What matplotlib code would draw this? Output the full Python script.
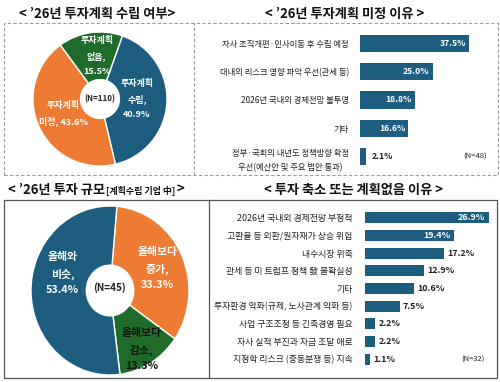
import matplotlib
matplotlib.use('Agg')
import matplotlib.pyplot as plt
from matplotlib.patches import Rectangle

plt.rcParams['font.family'] = ['Noto Sans CJK KR', 'DejaVu Sans']

BLUE = '#1d5e80'
ORANGE = '#ee7b33'
GREEN = '#1f6b2b'
TXT = '#222222'

# 투자계획 수립 여부
plan_labels = ['투자계획\n수립,\n40.9%', '투자계획\n미정, 43.6%', '투자계획\n없음,\n15.5%']
plan_values = [40.9, 43.6, 15.5]

# 투자계획 미정 이유
undecided_cats = ['자사 조직개편·인사이동 후 수립 예정',
                  '대내외 리스크 영향 파악 우선(관세 등)',
                  '2026년 국내외 경제전망 불투명',
                  '기타',
                  '정부·국회의 내년도 정책방향 확정\n우선(예산안 및 주요 법안 통과)']
undecided_vals = [37.5, 25.0, 18.8, 16.6, 2.1]

# 투자 규모
scale_labels = ['올해보다\n증가,\n33.3%', '올해보다\n감소,\n13.3%', '올해와\n비슷,\n53.4%']
scale_values = [33.3, 13.3, 53.4]

# 투자 축소 또는 계획없음 이유
cut_cats = ['2026년 국내외 경제전망 부정적',
            '고환율 등 외환/원자재가 상승 위험',
            '내수시장 위축',
            '관세 등 미 트럼프 정책 發 불확실성',
            '기타',
            '투자환경 악화(규제, 노사관계 악화 등)',
            '사업 구조조정 등 긴축경영 필요',
            '자사 실적 부진과 자금 조달 애로',
            '지정학 리스크 (중동분쟁 등) 지속']
cut_vals = [26.9, 19.4, 17.2, 12.9, 10.6, 7.5, 2.2, 2.2, 1.1]

W, H = 500, 382
fig = plt.figure(figsize=(W / 100, H / 100), dpi=100)
renderer = fig.canvas.get_renderer()


def px_axes(x0, y0, w, h):
    return fig.add_axes([x0 / W, 1 - (y0 + h) / H, w / W, h / H])


def fx(x):
    return x / W


def fy(y):
    return 1 - y / H


# frames
fig.patches.append(Rectangle((fx(4), fy(175)), fx(494), 152 / H, transform=fig.transFigure,
                             fill=False, ec='#9a9a9a', lw=0.8, ls=(0, (3, 2))))
fig.lines.append(plt.Line2D([fx(194), fx(194)], [fy(175), fy(23)], transform=fig.transFigure,
                            color='#9a9a9a', lw=0.8, ls=(0, (3, 2))))
fig.patches.append(Rectangle((fx(4), fy(378)), fx(493), 178 / H, transform=fig.transFigure,
                             fill=False, ec='#555555', lw=0.9))
fig.lines.append(plt.Line2D([fx(209), fx(209)], [fy(378), fy(200)], transform=fig.transFigure,
                            color='#555555', lw=0.9))

# titles
tkw = dict(fontsize=9.5, fontweight='bold', color='#111111', va='center')
fig.text(fx(97), fy(14), "< ’26년 투자계획 수립 여부>", ha='center', **tkw)
fig.text(fx(345), fy(14), "< ’26년 투자계획 미정 이유 >", ha='center', **tkw)
t1 = fig.text(fx(8), fy(190), "< ’26년 투자 규모", ha='left', **tkw)
x_end = t1.get_window_extent(renderer).x1 / fig.bbox.width
t2 = fig.text(x_end + 0.003, fy(191), "[계획수립 기업 中]", ha='left', fontsize=6.5,
              fontweight='bold', color='#111111', va='center')
x_end = t2.get_window_extent(renderer).x1 / fig.bbox.width
fig.text(x_end + 0.002, fy(190), ">", ha='left', **tkw)
fig.text(fx(353), fy(190), "< 투자 축소 또는 계획없음 이유 >", ha='center', **tkw)

# top-left donut
ax1 = px_axes(33, 32, 134, 134)
ax1.pie(plan_values, colors=[BLUE, ORANGE, GREEN], startangle=70.5, counterclock=False,
        wedgeprops=dict(width=0.71, edgecolor='white', linewidth=1))
ax1.set_xlim(-1, 1)
ax1.set_ylim(-1, 1)
pos1 = [(0.55, 0.0), (-0.55, -0.22), (-0.05, 0.64)]
for (x, y), lab in zip(pos1, plan_labels):
    ax1.text(x, y, lab, ha='center', va='center', color='white', fontsize=6.5,
             fontweight='bold', linespacing=1.85)
ax1.text(0, 0, '(N=110)', ha='center', va='center', color=TXT, fontsize=5.8, fontweight='bold')

# bottom-left donut
ax3 = px_axes(31, 206, 158, 169)
ax3.pie(scale_values, colors=[ORANGE, GREEN, BLUE], startangle=85, counterclock=False,
        wedgeprops=dict(width=0.7, edgecolor='white', linewidth=1))
ax3.set_aspect('auto')
ax3.set_xlim(-1, 1)
ax3.set_ylim(-1, 1)
pos3 = [(0.6, 0.26), (0.4, -0.7), (-0.6, 0.2)]
cols3 = ['white', '#111111', 'white']
for (x, y), lab, c in zip(pos3, scale_labels, cols3):
    ax3.text(x, y, lab, ha='center', va='center', color=c, fontsize=7.8,
             fontweight='bold', linespacing=1.7)
ax3.text(0, 0.03, '(N=45)', ha='center', va='center', color=TXT, fontsize=7.2, fontweight='bold')

# top-right bars
ax2 = px_axes(360, 29, 130, 142)
y2 = range(len(undecided_vals))
ax2.barh(y2, undecided_vals, height=0.6, color=BLUE)
ax2.set_ylim(len(undecided_vals) - 0.5, -0.5)
ax2.set_xlim(0, 130 / 2.9)
ax2.set_yticks(list(y2))
ax2.set_yticklabels(undecided_cats, fontsize=6, color=TXT, multialignment='center',
                    linespacing=1.7)
ax2.tick_params(axis='y', length=0, pad=8)
ax2.set_xticks([])
for s in ax2.spines.values():
    s.set_visible(False)
for i, v in enumerate(undecided_vals):
    if v > 10:
        ax2.text(v - 1, i, f'{v:.1f}%', ha='right', va='center', color='white',
                 fontsize=6.2, fontweight='bold')
    else:
        ax2.text(v + 2, i, f'{v:.1f}%', ha='left', va='center', color=TXT,
                 fontsize=6.2, fontweight='bold')
ax2.text(0.98, 0.1, '(N=48)', transform=ax2.transAxes, ha='right', va='center',
         color=TXT, fontsize=5.5)

# bottom-right bars
ax4 = px_axes(365, 209, 130, 159)
y4 = range(len(cut_vals))
ax4.barh(y4, cut_vals, height=0.63, color=BLUE)
ax4.set_ylim(len(cut_vals) - 0.5, -0.5)
ax4.set_xlim(0, 130 / 4.61)
ax4.set_yticks(list(y4))
ax4.set_yticklabels(cut_cats, fontsize=6.4, color=TXT)
ax4.tick_params(axis='y', length=0, pad=9)
ax4.set_xticks([])
for s in ax4.spines.values():
    s.set_visible(False)
for i, v in enumerate(cut_vals):
    if v > 18:
        ax4.text(v - 0.8, i, f'{v:.1f}%', ha='right', va='center', color='white',
                 fontsize=6.4, fontweight='bold')
    else:
        ax4.text(v + 0.7, i, f'{v:.1f}%', ha='left', va='center', color=TXT,
                 fontsize=6.4, fontweight='bold')
ax4.text(0.92, 0.05, '(N=32)', transform=ax4.transAxes, ha='right', va='center',
         color=TXT, fontsize=5.5)

fig.savefig('out.png', dpi=100, facecolor='white')
